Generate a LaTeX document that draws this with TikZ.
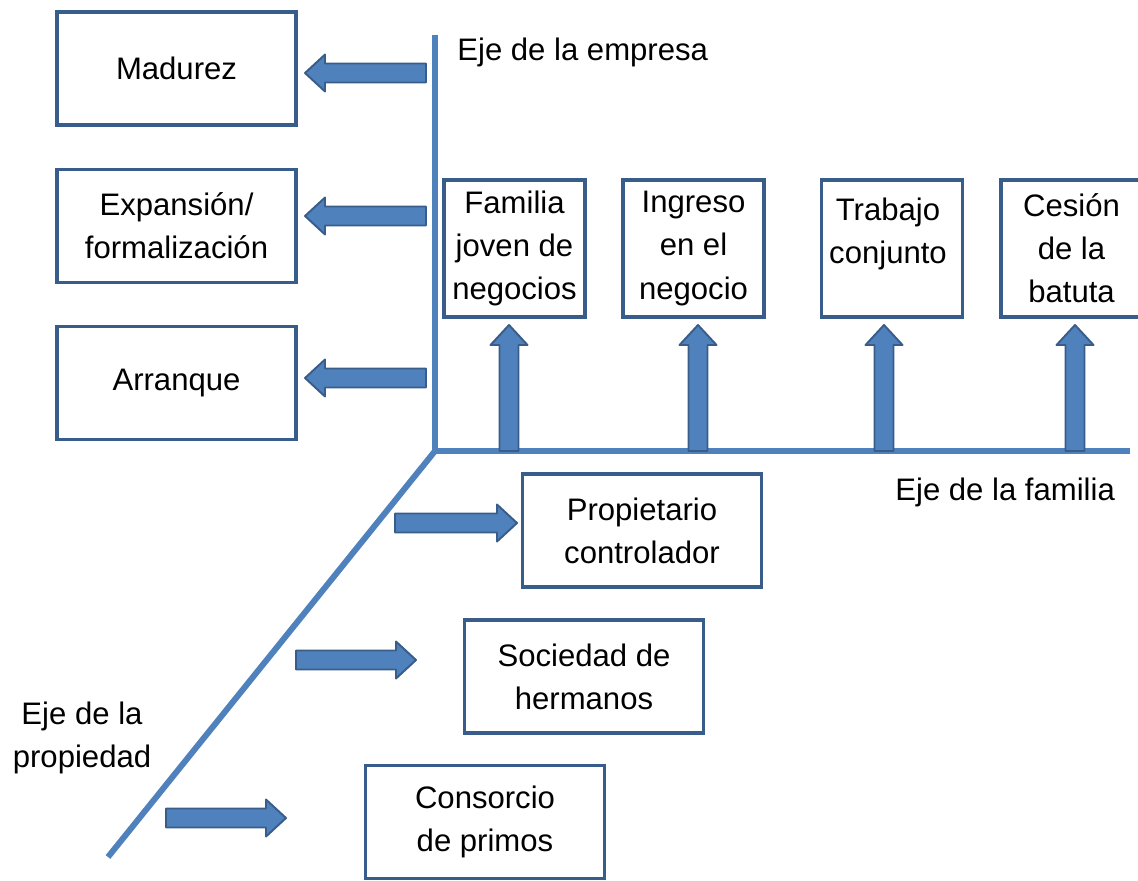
\documentclass[tikz,border=0pt]{standalone}
\usepackage{fontspec}
\setmainfont{Liberation Sans}
\usetikzlibrary{positioning}
\definecolor{ejeazul}{HTML}{4F81BD}
\definecolor{bordeazul}{HTML}{385D8A}
\tikzset{
  caja/.style={draw=bordeazul, fill=white, line width=1.9pt, align=center, inner sep=0pt,
    font=\fontsize{17.7}{24.5}\selectfont},
  ancha/.style={caja, minimum width=4.78cm, minimum height=2.26cm},
  alta/.style={caja, minimum width=2.82cm, minimum height=2.74cm},
  eje/.style={ejeazul, line width=3.4pt},
  flecha/.style={fill=ejeazul, draw=bordeazul, line width=1.1pt, line join=round},
  rotulo/.style={font=\fontsize{17.7}{24.5}\selectfont, align=center, inner sep=0pt}
}
% block arrow: tail point, direction, length
\newcommand{\bloque}[3]{%
  \draw[flecha, shift={(#1)}, rotate=#2] (0,-9.5) -- ({#3-20},-9.5) -- ({#3-20},-18.5)
    -- (#3,0) -- ({#3-20},18.5) -- ({#3-20},9.5) -- (0,9.5) -- cycle;}

\begin{document}
\begin{tikzpicture}[x=0.02cm, y=-0.02cm]
    \useasboundingbox (0,0) rectangle (1138,880);

    % Axes
    \coordinate (origen) at (435,451);
    \draw[eje] (435,35) -- (origen);
    \draw[eje] (origen) -- (1130,451);
    \draw[eje] (origen) -- (108,857);
    \node[rotulo, anchor=west] (ejeempresa) at (457,52) {Eje de la empresa};
    \node[rotulo, anchor=west] (ejefamilia) at (895,492) {Eje de la familia};
    \node[rotulo] (ejepropiedad) at (82,738) {Eje de la\\propiedad};

    % Eje de la empresa
    \node[ancha] (madurez) at (176.5,68.5) {Madurez};
    \node[ancha] (expansion) at (176.5,226) {Expansión/\\formalización};
    \node[ancha] (arranque) at (176.5,383) {Arranque};
    \bloque{426,73}{180}{121}
    \bloque{426,216}{180}{121}
    \bloque{426,378}{180}{121}

    % Eje de la familia
    \node[alta] (familia) at (514.5,248.5) {Familia\\joven de\\negocios};
    \node[alta] (ingreso) at (693.5,248.5) {Ingreso\\en el\\negocio};
    \node[alta] (trabajo) at (892,248.5) {};
    \node[rotulo] (trabajotexto) at (888,234) {Trabajo\\conjunto};
    \node[alta] (cesion) at (1071.5,248.5) {Cesión\\de la\\batuta};
    \bloque{509,451}{90}{126}
    \bloque{698,451}{90}{126}
    \bloque{884,451}{90}{126}
    \bloque{1075,451}{90}{126}

    % Eje de la propiedad
    \node[ancha] (propietario) at (642,530.5) {Propietario\\controlador};
    \node[ancha] (sociedad) at (584,676.5) {Sociedad de\\hermanos};
    \node[ancha] (consorcio) at (485,822) {Consorcio\\de primos};
    \bloque{395,523}{0}{122}
    \bloque{296,660}{0}{120}
    \bloque{166,818}{0}{120}
\end{tikzpicture}
\end{document}
